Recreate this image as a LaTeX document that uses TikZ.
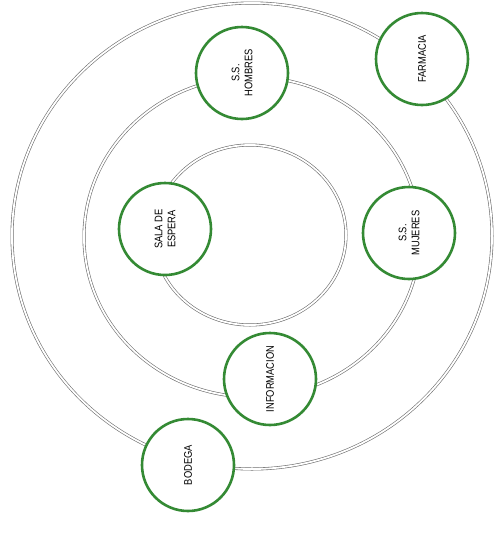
\documentclass[tikz,border=0pt]{standalone}
\usepackage{fontspec}
\setmainfont[FakeStretch=0.85]{Liberation Sans}
\definecolor{roomGreen}{RGB}{52,138,52}
\definecolor{ringGray}{RGB}{110,110,110}
\usetikzlibrary{positioning}

\begin{document}
\begin{tikzpicture}[x=1pt,y=-1pt,
    ring/.style={draw=ringGray, line width=0.6pt, double=white, double distance=1.8pt},
    room/.style={circle, draw=roomGreen, line width=2.6pt, fill=white, minimum size=92pt,
      inner sep=0pt, align=center, rotate=90, font=\fontsize{11}{13}\selectfont}]
        \useasboundingbox (0,0) rectangle (499,539);
        % circulation rings
        \draw[ring] (252,236) ellipse [x radius=240, y radius=233];
        \draw[ring] (252,237) ellipse [x radius=168, y radius=160];
        \draw[ring] (250,235) ellipse [x radius=96, y radius=90];
        % rooms
        \node[room] (hombres) at (242,73) {S.S.\\HOMBRES};
        \node[room] (farmacia) at (422,59) {FARMACIA};
        \node[room] (sala) at (165,229) {SALA DE\\ESPERA};
        \node[room] (mujeres) at (409,233) {S.S.\\MUJERES};
        \node[room] (info) at (270,379) {INFORMACION};
        \node[room] (bodega) at (188,465) {BODEGA};
      \end{tikzpicture}
\end{document}
